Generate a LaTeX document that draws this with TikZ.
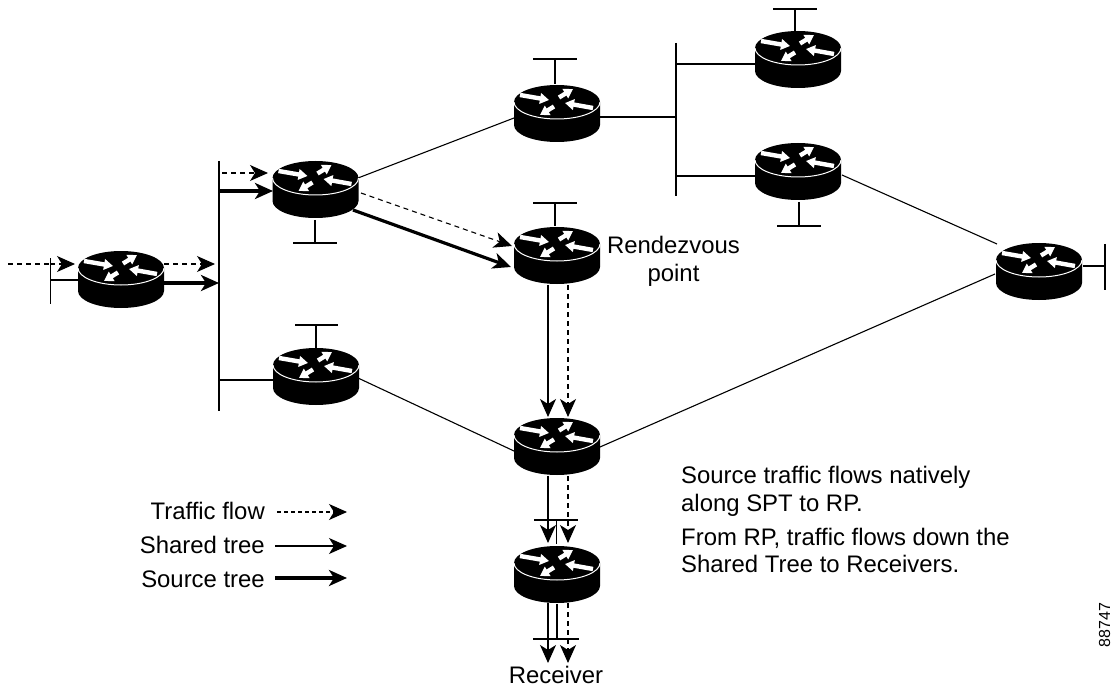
\documentclass[tikz,border=0pt]{standalone}
\usepackage{fontspec}
\setmainfont{Liberation Sans}
\usetikzlibrary{arrows.meta}
\tikzset{
  x=1pt,y=-1pt,
  routerbox/.style={inner sep=0pt,minimum width=86pt,minimum height=57pt},
  wire/.style={line width=1.1pt},
  thickbar/.style={line width=1.4pt},
  head/.tip={Stealth[length=18pt,width=16pt,inset=5pt]},
  shared/.style={line width=1.2pt,-head},
  source/.style={line width=3.2pt,-head},
  flow/.style={line width=1.1pt,dash pattern=on 5pt off 4pt,-head},
  flowplain/.style={line width=1.1pt,dash pattern=on 5pt off 4pt},
  txt/.style={font=\fontsize{23.9}{27}\selectfont,inner sep=0pt},
  whitearrow/.style={draw=white,line width=4.4pt,-{Triangle[length=9pt,width=10.5pt]}},
  router/.pic={
    \fill[black] (-43,-11.5) arc[start angle=180,end angle=0,x radius=43pt,y radius=17pt]
       -- (43,11.5) arc[start angle=0,end angle=-180,x radius=43pt,y radius=17pt] -- cycle;
    \draw[white,line width=1pt] (-43,-11.5) arc[start angle=180,end angle=360,x radius=43pt,y radius=17pt];
    \draw[whitearrow] (-37,-18.5) -- (-8,-13.5);
    \draw[whitearrow] (2,-16) -- (16,-24.5);
    \draw[whitearrow] (36,-5.5) -- (8,-10.5);
    \draw[whitearrow] (-3,-7) -- (-17,1.5);
  }
}
\begin{document}
\begin{tikzpicture}
\useasboundingbox (0,0) rectangle (1111,687);
% router placeholders
\node[routerbox] (r1) at (121,279.5) {};
\node[routerbox] (r2) at (315.5,189.5) {};
\node[routerbox] (r3) at (316,376.5) {};
\node[routerbox] (r4) at (557,113.5) {};
\node[routerbox] (r5) at (557,255.5) {};
\node[routerbox] (r6) at (557,446.5) {};
\node[routerbox] (r7) at (557,574.5) {};
\node[routerbox] (r8) at (798,59.5) {};
\node[routerbox] (r9) at (798,171.5) {};
\node[routerbox] (r10) at (1039,271.5) {};
% free-end coordinates
\coordinate (in) at (8,264);
\coordinate (r1in) at (75,264);
\coordinate (r1o1) at (164,264);
\coordinate (bus1a) at (215,264);
\coordinate (r1o2) at (164,283);
\coordinate (bus1b) at (219,283);
\coordinate (lan1t) at (50.5,258);
\coordinate (lan1b) at (50.5,304);
\coordinate (lan1m) at (50.5,280);
\coordinate (r1l) at (78,280);
\coordinate (bust) at (219,161);
\coordinate (busb) at (219,411);
\coordinate (busf) at (222,173);
\coordinate (r2f) at (268,173);
\coordinate (buss) at (218,191);
\coordinate (r2s) at (273,191);
\coordinate (busr3) at (219,380);
\coordinate (r3l) at (273,380);
\coordinate (r2o1) at (358,178);
\coordinate (r4l) at (514,118);
\coordinate (r2o2) at (361,193);
\coordinate (r5f) at (512,246);
\coordinate (r2o3) at (353,210);
\coordinate (r5s) at (511,267);
\coordinate (r3o) at (358,378);
\coordinate (r6l) at (514,451);
\coordinate (r4o) at (600,117);
\coordinate (bus2m) at (676,117);
\coordinate (bus2t) at (676,43);
\coordinate (bus2b) at (676,196);
\coordinate (bus2u) at (676,64);
\coordinate (r8l) at (755,64);
\coordinate (bus2d) at (676,176);
\coordinate (r9l) at (755,176);
\coordinate (r9o) at (842,175);
\coordinate (r10a) at (997,244);
\coordinate (r10b) at (995,274);
\coordinate (r6o) at (600,447);
\coordinate (r10o) at (1083,266);
\coordinate (lan2m) at (1105,266);
\coordinate (lan2t) at (1105,244);
\coordinate (lan2b) at (1105,290);
% connectors
\draw[flowplain] (in) -- (50,264);
\draw[flow] (50,264) -- (r1in);
\draw[wire] (lan1m) -- (r1l);
\draw[thickbar] (lan1t) -- (lan1b);
\draw[flow] (r1o1) -- (bus1a);
\draw[source] (r1o2) -- (bus1b);
\draw[thickbar] (bust) -- (busb);
\draw[flow] (busf) -- (r2f);
\draw[source] (buss) -- (r2s);
\draw[wire] (busr3) -- (r3l);
\draw[wire] (r2o1) -- (r4l);
\draw[flow] (r2o2) -- (r5f);
\draw[source] (r2o3) -- (r5s);
\draw[wire] (r3o) -- (r6l);
\draw[wire] (r4o) -- (bus2m);
\draw[thickbar] (bus2t) -- (bus2b);
\draw[wire] (bus2u) -- (r8l);
\draw[wire] (bus2d) -- (r9l);
\draw[wire] (r9o) -- (r10a);
\draw[wire] (r10b) -- (r6o);
\draw[wire] (r10o) -- (lan2m);
\draw[thickbar] (lan2t) -- (lan2b);
% stubs
\draw[wire] (315,220) -- (315,243);
\draw[thickbar] (293,243) -- (337,243);
\draw[wire] (316,325) -- (316,348);
\draw[thickbar] (295,325) -- (338,325);
\draw[wire] (555,59) -- (555,84);
\draw[thickbar] (533,59) -- (577,59);
\draw[wire] (555,203) -- (555,226);
\draw[thickbar] (533,203) -- (577,203);
\draw[wire] (795,9) -- (795,31);
\draw[thickbar] (773,9) -- (817,9);
\draw[wire] (799,202) -- (799,226);
\draw[thickbar] (777,226) -- (821,226);
\draw[wire] (556.5,520) -- (556.5,544);
\draw[thickbar] (534,520) -- (578,520);
\draw[wire] (557,604) -- (557,640);
\draw[thickbar] (533,639) -- (579,639);
% vertical arrows
\draw[shared] (548,285) -- (548,417);
\draw[flow] (568,285) -- (568,417);
\draw[shared] (548,476) -- (548,543);
\draw[flow] (568,476) -- (568,543);
\draw[shared] (548,603) -- (548,663);
\draw[flow] (568,603) -- (568,663);
% routers
\foreach \r in {r1,r2,r3,r4,r5,r6,r7,r8,r9,r10} {\pic at (\r) {router};}
% labels
\node[txt,anchor=base] (rv1) at (673.5,254) {Rendezvous};
\node[txt,anchor=base] (rv2) at (673.5,281) {point};
\node[txt,anchor=base] (recv) at (556,683) {Receiver};
\node[txt,anchor=base west] (t1) at (681,483) {Source traffic flows natively};
\node[txt,anchor=base west] (t2) at (681,511) {along SPT to RP.};
\node[txt,anchor=base west] (t3) at (681,545) {From RP, traffic flows down the};
\node[txt,anchor=base west] (t4) at (681,572) {Shared Tree to Receivers.};
\node[txt,anchor=base east] (l1) at (265,519) {Traffic flow};
\node[txt,anchor=base east] (l2) at (265,553) {Shared tree};
\node[txt,anchor=base east] (l3) at (265,587) {Source tree};
\coordinate (l1t) at (347,512);
\coordinate (l2t) at (347,546);
\coordinate (l3t) at (347,578);
\draw[line width=1.1pt,dash pattern=on 3.5pt off 3.5pt,-head] (277,512) -- (l1t);
\draw[shared] (275,546) -- (l2t);
\draw[source] (275,578) -- (l3t);
\node[font=\fontsize{16}{16}\selectfont,inner sep=0pt,rotate=90,anchor=base] (num) at (1110,625) {88747};
\end{tikzpicture}
\end{document}
